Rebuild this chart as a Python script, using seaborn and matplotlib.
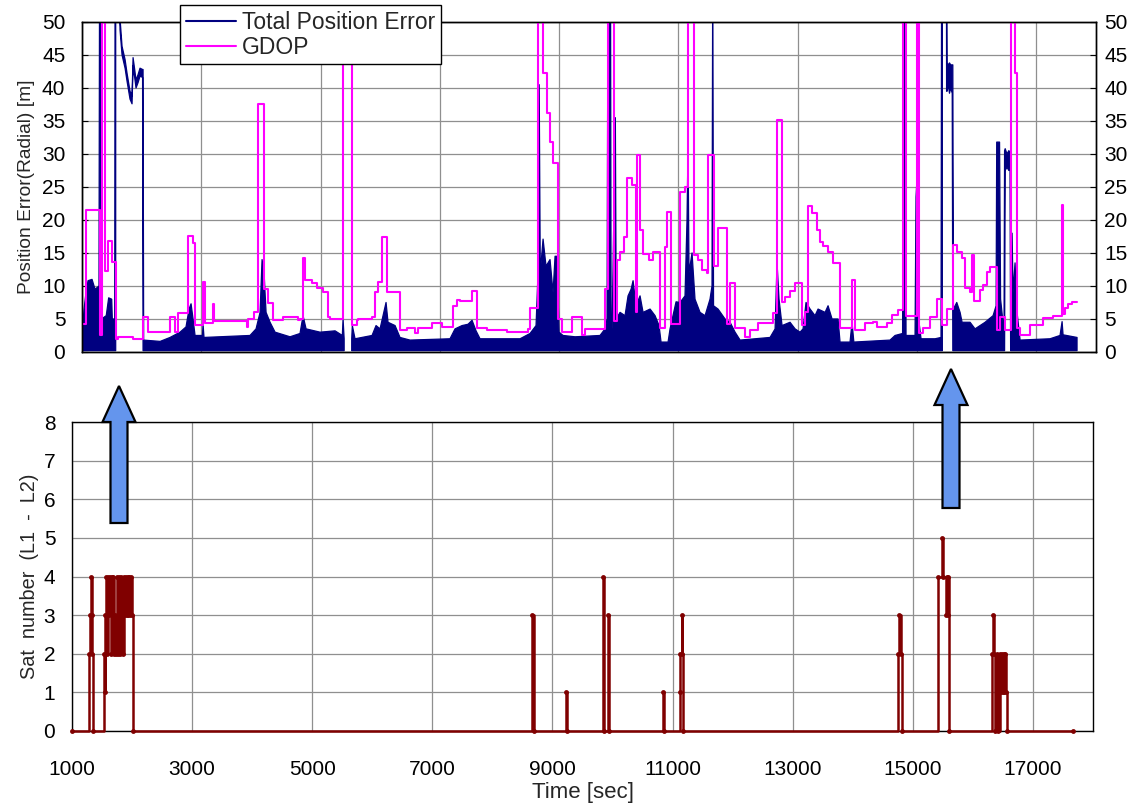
import numpy as np
import matplotlib
matplotlib.use("Agg")
import matplotlib.pyplot as plt
import seaborn as sns
from matplotlib.lines import Line2D
from matplotlib.patches import FancyArrow

# ---------------- data ----------------
# GDOP, step series (time [sec], value)
gdop_t = [1200, 1266, 1497, 1530, 1580, 1630, 1696, 1762, 1795, 2043, 2208, 2290,
          2654, 2736, 2786, 2951, 3034, 3067, 3199, 3232, 3364, 3381, 3926, 3942,
          4040, 4108, 4207, 4273, 4355, 4521, 4768, 4801, 4851, 4884, 5000, 5082,
          5181, 5264, 5297, 5512, 5660, 5743, 5760, 5991, 6040, 6090, 6156, 6239,
          6453, 6569, 6701, 6751, 6982, 7147, 7329, 7395, 7445, 7643, 7725, 7891,
          8221, 8568, 8601, 8733, 8816, 8882, 8931, 8981, 9064, 9130, 9295, 9460,
          9510, 9840, 9890, 9989, 10038, 10088, 10154, 10203, 10286, 10352, 10369,
          10418, 10468, 10567, 10633, 10749, 10831, 10864, 10930, 11079, 11161,
          11211, 11310, 11376, 11442, 11525, 11541, 11640, 11707, 11855, 11905,
          11988, 12153, 12236, 12368, 12616, 12681, 12764, 12814, 12896, 12979,
          13094, 13144, 13194, 13260, 13342, 13392, 13442, 13524, 13607, 13722,
          13920, 13970, 14135, 14267, 14333, 14498, 14581, 14680, 14763, 14812,
          14994, 15027, 15093, 15209, 15325, 15408, 15490, 15589, 15655, 15738,
          15788, 15870, 15903, 15936, 16035, 16085, 16151, 16200, 16316, 16365,
          16448, 16547, 16613, 16646, 16696, 16861, 17076, 17241, 17390, 17406,
          17439, 17489, 17555, 17637]
gdop_v = [4.3, 21.5, 2.6, 60, 12.2, 16.8, 13.6, 2.0, 2.2, 2.0, 5.3, 3.0,
          5.3, 3.1, 5.9, 17.6, 16.5, 4.1, 10.6, 4.4, 7.3, 4.7, 3.8, 5.0,
          6.0, 37.6, 9.5, 7.4, 4.9, 5.3, 4.8, 5.0, 14.3, 10.9, 10.5, 9.7,
          9.1, 5.3, 5.0, 60, 4.1, 4.8, 5.0, 5.3, 9.1, 10.6, 17.4, 9.1,
          3.3, 3.6, 2.9, 3.6, 4.4, 3.8, 7.0, 7.9, 7.7, 9.2, 3.6, 3.3,
          3.1, 3.5, 6.7, 60, 42.3, 36.2, 31.8, 28.6, 5.0, 3.0, 5.3, 2.6,
          3.5, 9.5, 60, 4.7, 13.9, 15.1, 17.4, 26.3, 25.3, 6.1, 29.8,
          18.5, 14.8, 14.0, 15.1, 3.6, 15.9, 21.2, 4.2, 24.2, 25.0,
          60, 14.7, 13.9, 12.4, 12.0, 29.8, 13.0, 18.8, 4.2, 10.5,
          3.7, 2.3, 3.3, 4.4, 5.9, 35.1, 7.6, 8.3, 9.2, 10.4,
          4.1, 6.0, 22.1, 21.0, 18.5, 16.7, 16.0, 15.1, 13.5, 3.7,
          10.9, 3.3, 4.4, 4.6, 3.8, 4.4, 5.6, 6.4, 60, 5.5,
          60, 2.9, 3.7, 5.3, 8.0, 4.1, 6.5, 16.2, 15.1, 14.2,
          9.7, 9.1, 14.7, 7.7, 9.4, 10.2, 12.1, 12.9, 3.3, 5.3,
          3.3, 60, 42.3, 3.6, 2.5, 4.1, 5.1, 5.4, 22.2, 5.7,
          6.6, 7.3, 7.6, 7.6]

# Total position error: band between lower and upper envelope (time [sec], m)
err_t = [1200, 1233, 1266, 1299, 1365, 1415, 1480, 1490, 1510, 1522, 1600, 1640,
         1690, 1700, 1740, 1746, 1756, 1756, 1815, 1828, 1861, 1911, 1944, 1993,
         2026, 2043, 2067, 2092, 2125, 2158, 2200, 2208, 2218, 2490, 2654, 2819,
         2918, 2968, 3001, 3034, 3067, 3190, 3199, 3215, 3975, 4075, 4141, 4174,
         4207, 4240, 4306, 4389, 4636, 4801, 4851, 4901, 5132, 5380, 5500, 5512,
         5530, 5545, 5640, 5655, 5665, 5710, 5991, 6057, 6123, 6222, 6255, 6371,
         6453, 6618, 7279, 7362, 7478, 7577, 7643, 7709, 7775, 8436, 8601, 8700,
         8733, 8752, 8770, 8816, 8865, 8931, 8981, 9014, 9047, 9080, 9146, 9345,
         9757, 9840, 9873, 9885, 9898, 9912, 9930, 9940, 9956, 10010, 10025, 10088,
         10170, 10220, 10270, 10303, 10352, 10418, 10468, 10584, 10666, 10732, 10765, 10881,
         10914, 11013, 11079, 11161, 11194, 11211, 11227, 11277, 11326, 11409, 11492, 11574,
         11607, 11619, 11632, 11707, 11822, 11905, 11988, 12071, 12566, 12649, 12681, 12714,
         12764, 12896, 12979, 13061, 13111, 13160, 13227, 13309, 13359, 13475, 13524, 13590,
         13689, 13722, 13887, 13920, 13950, 14548, 14631, 14755, 14770, 14800, 14812, 14961,
         14977, 15002, 15020, 15060, 15292, 15390, 15400, 15412, 15412, 15480, 15482, 15490,
         15510, 15530, 15550, 15575, 15585, 15595, 15650, 15705, 15738, 15870, 15952, 16118,
         16250, 16300, 16310, 16357, 16374, 16431, 16440, 16450, 16480, 16510, 16530, 16540,
         16550, 16564, 16580, 16613, 16646, 16696, 17191, 17356, 17390, 17406, 17637]
err_lo = [0.2, 0.2, 0.2, 0.2, 0.2, 0.2, 0.2, 0.2, 0.2, 0.2, 0.2, 0.2,
          0.2, 0.2, 0.2, 0.2, 0.2, 55, 55, 48.8, 45.0, 43.0, 41.0, 38.3,
          37.6, 43.4, 41.8, 40.0, 40.8, 41.8, 41.6, 0.2, 0.2, 0.2, 0.2, 0.2,
          0.2, 0.2, 0.2, 0.2, 0.2, 0.2, 0.2, 0.2, 0.2, 0.2, 0.2, 0.2,
          0.2, 0.2, 0.2, 0.2, 0.2, 0.2, 0.2, 0.2, 0.2, 0.2, 0.2, 0.2,
          0.2, np.nan, np.nan, 0.2, 0.2, 0.2, 0.2, 0.2, 0.2, 0.2, 0.2, 0.2,
          0.2, 0.2, 0.2, 0.2, 0.2, 0.2, 0.2, 0.2, 0.2, 0.2, 0.2, 0.2,
          0.2, 0.2, 0.2, 0.2, 0.2, 0.2, 0.2, 0.2, 0.2, 0.2, 0.2, 0.2,
          0.2, 0.2, 0.2, 0.2, 0.2, 0.2, 0.2, 0.2, 0.2, 0.2, 0.2, 0.2,
          0.2, 0.2, 0.2, 0.2, 0.2, 0.2, 0.2, 0.2, 0.2, 0.2, 0.2, 0.2,
          0.2, 0.2, 0.2, 0.2, 0.2, 0.2, 0.2, 0.2, 0.2, 0.2, 0.2, 0.2,
          0.2, 0.2, 0.2, 0.2, 0.2, 0.2, 0.2, 0.2, 0.2, 0.2, 0.2, 0.2,
          0.2, 0.2, 0.2, 0.2, 0.2, 0.2, 0.2, 0.2, 0.2, 0.2, 0.2, 0.2,
          0.2, 0.2, 0.2, 0.2, 0.2, 0.2, 0.2, 0.2, 0.2, 0.2, 0.2, 0.2,
          0.2, 0.2, 0.2, 0.2, 0.2, 0.2, 0.2, 0.2, 55, 55, 39.5, 39.5,
          40.5, 39.2, 40.0, 39.2, 0.2, 0.2, 0.2, 0.2, 0.2, 0.2, 0.2, 0.2,
          0.2, 0.2, 0.2, 0.2, 0.2, 0.2, 0.2, 27.5, 28.0, 27.5, 27.8, 0.2,
          0.2, 0.2, 0.2, 0.2, 0.2, 0.2, 0.2, 0.2, 0.2, 0.2, 0.2]
err_hi = [2.5, 6.5, 9.0, 10.8, 11.0, 9.5, 10.0, 60, 60, 5.0, 5.5, 8.2,
          8.0, 5.0, 5.0, 60, 60, 60, 60, 50.5, 46.3, 44.3, 42.2, 39.5,
          38.8, 44.6, 43.0, 41.2, 42.0, 43.0, 42.8, 42.8, 1.8, 1.6, 2.2, 3.0,
          3.8, 6.5, 7.3, 5.0, 2.5, 2.5, 4.2, 2.2, 2.5, 3.5, 6.0, 14.0,
          12.0, 6.0, 4.5, 3.0, 2.3, 2.8, 5.5, 3.5, 3.0, 3.2, 2.5, 5.0,
          2.0, np.nan, np.nan, 2.0, 4.0, 2.0, 2.5, 4.0, 3.5, 7.5, 4.5, 4.0,
          2.2, 1.8, 2.0, 3.5, 4.0, 4.2, 4.8, 3.2, 2.0, 2.0, 2.8, 4.0,
          12.0, 40.5, 12.0, 17.1, 13.0, 14.0, 9.0, 14.5, 14.5, 3.0, 2.5, 2.3,
          2.5, 3.5, 5.0, 45.3, 4.0, 60, 60, 4.0, 3.0, 35.5, 5.0, 6.0,
          5.5, 8.5, 9.5, 10.8, 7.0, 8.5, 6.0, 6.5, 5.5, 4.0, 1.5, 1.5,
          3.5, 7.6, 7.5, 8.5, 20.0, 31.4, 12.0, 15.0, 8.0, 6.0, 5.5, 8.0,
          10.0, 60, 7.0, 6.5, 5.0, 4.5, 3.0, 1.8, 2.2, 3.5, 13.5, 8.0,
          4.0, 4.5, 3.5, 3.0, 3.5, 7.5, 6.5, 5.5, 6.5, 6.0, 7.0, 5.0,
          5.0, 1.5, 1.5, 4.5, 1.5, 1.8, 2.5, 2.8, 60, 60, 2.5, 2.5,
          23.5, 27.6, 5.0, 2.0, 2.0, 2.2, 60, 60, 60, 60, 60, 43.8,
          43.5, 43.8, 43.5, 43.5, 43.5, 6.5, 7.5, 6.0, 4.5, 4.5, 3.5, 4.5,
          5.5, 7.0, 31.8, 31.8, 8.0, 3.0, 30.5, 30.8, 30.0, 30.5, 30.3, 30.0,
          7.0, 18.0, 9.0, 13.5, 6.0, 1.8, 2.0, 2.5, 4.6, 2.6, 2.2]

# Satellite number (L1 - L2), step series
sat_t = [1000, 1288, 1300, 1312, 1325, 1340, 1355, 1533, 1545, 1555, 1570, 1585,
         1600, 1615, 1630, 1645, 1660, 1675, 1690, 1705, 1716, 1730, 1745, 1760,
         1775, 1790, 1805, 1820, 1835, 1850, 1866, 1880, 1895, 1910, 1925, 1940,
         1955, 1970, 1985, 2000, 2021, 8660, 8690, 9220, 9240, 9835, 9855, 9920,
         9945, 10840, 10860, 11120, 11130, 11150, 11160, 11178, 14755, 14770, 14800, 14815,
         15419, 15485, 15505, 15560, 15570, 15580, 15590, 15602, 16318, 16335, 16350, 16368,
         16395, 16410, 16451, 16465, 16480, 16495, 16510, 16525, 16540, 16555, 16573, 17672]
sat_v = [0, 2, 3, 4, 3, 2, 0, 2, 1, 3, 4, 2,
         4, 3, 4, 2, 4, 3, 4, 2, 3, 2, 4, 2,
         3, 4, 2, 4, 3, 2, 4, 3, 4, 3, 4, 3,
         4, 3, 4, 3, 0, 3, 0, 1, 0, 4, 0, 3,
         0, 1, 0, 1, 2, 3, 2, 0, 2, 3, 2, 0,
         4, 5, 4, 3, 4, 3, 4, 0, 2, 3, 2, 0,
         2, 0, 2, 1, 2, 1, 2, 1, 2, 1, 0, 0]

top_xticks = [1200, 3170, 5140, 7110, 9080, 11050, 13020, 14990, 16960]
top_yticks = [0, 5, 10, 15, 20, 25, 30, 35, 40, 45, 50]
bot_xticks = [1000, 3000, 5000, 7000, 9000, 11000, 13000, 15000, 17000]
bot_yticks = [0, 1, 2, 3, 4, 5, 6, 7, 8]

# ---------------- style ----------------
sns.set_style("white")
plt.rcParams["font.family"] = ["Liberation Sans", "DejaVu Sans"]

NAVY = "#000080"
MAGENTA = "#FF00FF"
DARKRED = "#800000"
GRID = "#8f8f8f"
TICK_FS = 15

fig = plt.figure(figsize=(11.3, 8.08), dpi=100)
ax1 = fig.add_axes([0.0726, 0.5644, 0.8973, 0.4084])
ax2 = fig.add_axes([0.0637, 0.0953, 0.9036, 0.3824])

# ---------------- top panel ----------------
ax1.fill_between(err_t, err_lo, err_hi, color=NAVY, edgecolor=NAVY, linewidth=0.9, zorder=2)
sns.lineplot(x=gdop_t, y=gdop_v, ax=ax1, color=MAGENTA, linewidth=1.5,
             drawstyle="steps-post", estimator=None, sort=False, zorder=3)
ax1.set_xlim(1200, 17950)
ax1.set_ylim(0, 50)
ax1.set_xticks(top_xticks)
ax1.set_xticklabels([])
ax1.set_yticks(top_yticks)
ax1.grid(True, color=GRID, linewidth=0.9)
ax1.tick_params(axis="x", length=0)
ax1.tick_params(axis="y", direction="in", length=4, labelsize=TICK_FS, pad=12, colors="black")
ax1.set_ylabel("Position Error(Radial) [m]", fontsize=13.8, labelpad=5)
ax1.set_xlabel("")
for s in ax1.spines.values():
    s.set_color("black")
    s.set_linewidth(1.0)

ax1r = ax1.twinx()
ax1r.set_ylim(0, 50)
ax1r.set_yticks(top_yticks)
ax1r.tick_params(axis="y", direction="in", length=4, labelsize=TICK_FS, pad=6, colors="black")
for s in ax1r.spines.values():
    s.set_color("black")
    s.set_linewidth(1.0)

handles = [Line2D([0], [0], color=NAVY, lw=1.5), Line2D([0], [0], color=MAGENTA, lw=1.5)]
leg = fig.legend(handles, ["Total Position Error", "GDOP"], loc="upper left",
                 bbox_to_anchor=(180 / 1130, 1 - 5 / 808), fontsize=16.5,
                 frameon=True, fancybox=False, framealpha=1, edgecolor="black",
                 handlelength=2.2, handletextpad=0.25, borderpad=0.25,
                 labelspacing=0.08, borderaxespad=0)
leg.get_frame().set_linewidth(1.0)

# ---------------- bottom panel ----------------
sns.lineplot(x=sat_t, y=sat_v, ax=ax2, color=DARKRED, linewidth=1.8,
             drawstyle="steps-post", estimator=None, sort=False,
             marker="o", markersize=3.5, markeredgewidth=0, clip_on=False, zorder=3)
ax2.set_xlim(1000, 18000)
ax2.set_ylim(0, 8)
ax2.set_xticks(bot_xticks)
ax2.set_yticks(bot_yticks)
ax2.grid(True, color=GRID, linewidth=0.9)
ax2.tick_params(axis="x", direction="in", length=4, labelsize=TICK_FS, pad=21, colors="black")
ax2.tick_params(axis="y", direction="in", length=4, labelsize=TICK_FS, pad=12, colors="black")
ax2.set_xlabel("Time [sec]", fontsize=16, labelpad=2)
ax2.set_ylabel("Sat  number  (L1  -  L2)", fontsize=14.3, labelpad=3)
for s in ax2.spines.values():
    s.set_color("black")
    s.set_linewidth(1.0)

# ---------------- arrows ----------------
W, H = 1130.0, 808.0
for cx, tail, tip in [(119, 523, 386), (951, 508, 369)]:
    arr = FancyArrow(cx / W, 1 - tail / H, 0, (tail - tip) / H,
                     width=17 / W, head_width=33 / W, head_length=36 / H,
                     length_includes_head=True, facecolor="#6495ED",
                     edgecolor="black", linewidth=1.6, transform=fig.transFigure,
                     zorder=5)
    fig.add_artist(arr)

fig.savefig("out.png", dpi=100)
